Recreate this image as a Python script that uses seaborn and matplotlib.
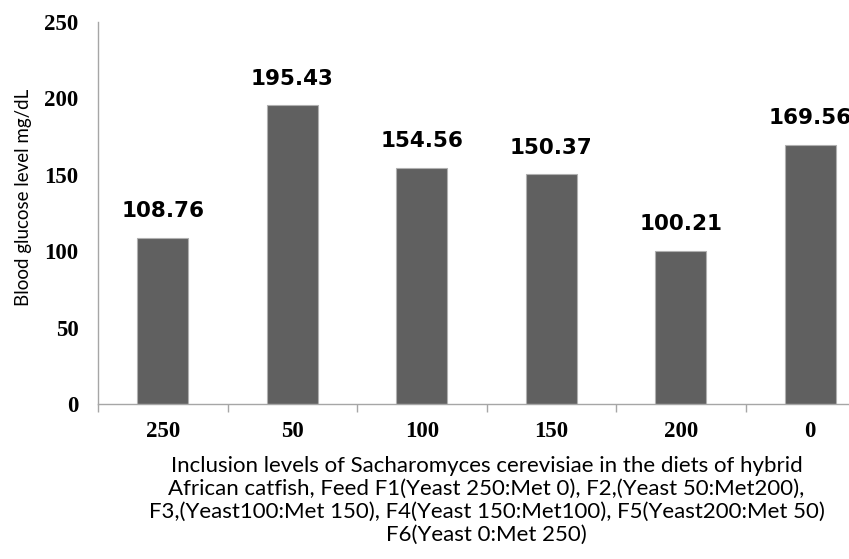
import matplotlib
matplotlib.use("Agg")
import matplotlib.pyplot as plt
import seaborn as sns
import pandas as pd
from matplotlib.ticker import FixedLocator

sns.set_theme(style="white")

# yeast inclusion level for each feed F1..F6
levels = ["250", "50", "100", "150", "200", "0"]
glucose = [108.76, 195.43, 154.56, 150.37, 100.21, 169.56]

df = pd.DataFrame({"Level": levels, "Glucose": glucose})

fig = plt.figure(figsize=(8.49, 5.59), dpi=100)
# axes runs a little past the right edge, as in the original image
ax = fig.add_axes([98 / 849, 155 / 559, 777 / 849, 382 / 559])

sns.barplot(data=df, x="Level", y="Glucose", order=levels, color="#606060",
            width=0.39, edgecolor="#b0b0b0", linewidth=0.8, saturation=1, ax=ax)

for i, v in enumerate(glucose):
    ax.annotate(f"{v:.2f}", (i, v), xytext=(0, 12), textcoords="offset points",
                ha="center", va="bottom", fontsize=15.5, fontweight="bold",
                family="DejaVu Sans", color="black")

ax.set_ylim(0, 250)
ax.set_xlim(-0.5, 5.5)
ax.set_yticks([0, 50, 100, 150, 200, 250])

for s in ["top", "right"]:
    ax.spines[s].set_visible(False)
for s in ["left", "bottom"]:
    ax.spines[s].set_color("#a6a6a6")
    ax.spines[s].set_linewidth(1.0)

ax.tick_params(axis="y", which="major", length=6, color="#a6a6a6", width=1, pad=8)
ax.tick_params(axis="x", which="major", length=0, pad=12)
ax.xaxis.set_minor_locator(FixedLocator([i - 0.5 for i in range(7)]))
ax.tick_params(axis="x", which="minor", bottom=True, length=6, color="#a6a6a6", width=1)

for lab in ax.get_xticklabels() + ax.get_yticklabels():
    lab.set_family("Liberation Serif")
    lab.set_fontweight("bold")
    lab.set_fontsize(16.5)
    lab.set_color("black")

ax.set_ylabel("Blood glucose level mg/dL", family="Lato", fontsize=13.5, color="black")
ax.yaxis.set_label_coords(-0.085, 0.54)
ax.set_xlabel("Inclusion levels of Sacharomyces cerevisiae in the diets of hybrid\n"
              "African catfish, Feed F1(Yeast 250:Met 0), F2,(Yeast 50:Met200),\n"
              "F3,(Yeast100:Met 150), F4(Yeast 150:Met100), F5(Yeast200:Met 50)\n"
              "F6(Yeast 0:Met 250)",
              family="Lato", fontsize=16, color="black", linespacing=1.2)
ax.xaxis.set_label_coords(0.5, -0.135)

fig.savefig("out.png", dpi=100)
